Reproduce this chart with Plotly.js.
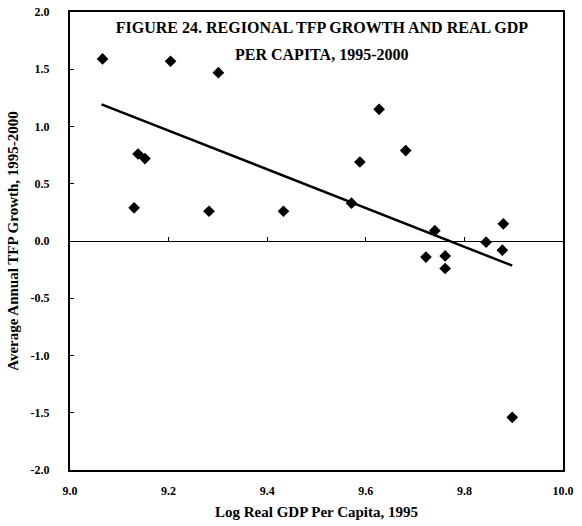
<!DOCTYPE html>
<html>
<head>
<meta charset="utf-8">
<script src="https://cdn.plot.ly/plotly-3.0.1.min.js"></script>
<style>
html,body{margin:0;padding:0;background:#fff;}
#chart{width:582px;height:526px;}
</style>
</head>
<body>
<div id="chart"></div>
<script>
// Log real GDP per capita, 1995 (x) and average annual TFP growth 1995-2000 (y)
var logGdp = [9.066, 9.204, 9.301, 9.138, 9.152, 9.130, 9.282, 9.433, 9.627, 9.588,
              9.681, 9.571, 9.740, 9.722, 9.761, 9.761, 9.844, 9.879, 9.877, 9.897];
var tfpGrowth = [1.59, 1.57, 1.47, 0.76, 0.72, 0.29, 0.26, 0.26, 1.15, 0.69,
                 0.79, 0.33, 0.09, -0.14, -0.13, -0.24, -0.01, 0.15, -0.08, -1.54];
// fitted trend line end points
var trendX = [9.064, 9.897];
var trendY = [1.194, -0.215];
// axis ticks
var xTickVals = [9.0, 9.2, 9.4, 9.6, 9.8, 10.0];
var xTickText = ["9.0", "9.2", "9.4", "9.6", "9.8", "10.0"];
var yTickVals = [-2, -1.5, -1, -0.5, 0, 0.5, 1, 1.5, 2];
var yTickText = ["-2.0", "-1.5", "-1.0", "-0.5", "0.0", "0.5", "1.0", "1.5", "2.0"];
var titleLine1 = "FIGURE 24. REGIONAL TFP GROWTH AND REAL GDP";
var titleLine2 = "PER CAPITA, 1995-2000";

var serif = "'Liberation Serif', 'Times New Roman', serif";

var traces = [
  {
    x: logGdp, y: tfpGrowth, type: 'scatter', mode: 'markers',
    marker: {symbol: 'diamond', size: 9, color: '#000'},
    hoverinfo: 'x+y', showlegend: false
  },
  {
    x: trendX, y: trendY, type: 'scatter', mode: 'lines',
    xaxis: 'x2',
    line: {color: '#000', width: 2.5},
    hoverinfo: 'skip', showlegend: false
  }
];

var layout = {
  width: 582, height: 526,
  paper_bgcolor: '#fff', plot_bgcolor: '#fff',
  margin: {l: 70, r: 19, t: 12, b: 56},
  font: {family: serif, color: '#000'},
  title: {
    text: '<b>' + titleLine1 + '</b>',
    font: {family: serif, size: 16, color: '#000'},
    xref: 'paper', x: 0.511, xanchor: 'center',
    yref: 'container', y: 0.947, yanchor: 'middle'
  },
  annotations: [{
    text: '<b>' + titleLine2 + '</b>',
    font: {family: serif, size: 16, color: '#000'},
    xref: 'paper', x: 0.511, xanchor: 'center',
    yref: 'paper', y: 0.908, yanchor: 'middle',
    showarrow: false
  }],
  xaxis: {
    range: [9, 10],
    tickvals: xTickVals, ticktext: xTickText,
    tickfont: {family: serif, size: 12, color: '#000', weight: 'bold'},
    ticks: '', showgrid: false, zeroline: false,
    showline: true, linecolor: '#000', linewidth: 2, mirror: true,
    ticklabelstandoff: 9,
    title: {text: '<b>Log Real GDP Per Capita, 1995</b>',
            font: {family: serif, size: 15, color: '#000'}, standoff: 9}
  },
  xaxis2: {
    range: [9, 10], overlaying: 'x', anchor: 'free', position: 0.5,
    tickvals: xTickVals, showticklabels: false,
    ticks: 'inside', ticklen: 4, tickwidth: 1, tickcolor: '#000',
    showline: true, linecolor: '#000', linewidth: 1,
    showgrid: false, zeroline: false
  },
  yaxis: {
    range: [-2, 2],
    tickvals: yTickVals, ticktext: yTickText,
    tickfont: {family: serif, size: 12, color: '#000', weight: 'bold'},
    ticks: 'inside', ticklen: 4, tickwidth: 1, tickcolor: '#000',
    showgrid: false, zeroline: false,
    showline: true, linecolor: '#000', linewidth: 2, mirror: true,
    ticklabelstandoff: 16,
    title: {text: '<b>Average Annual TFP Growth, 1995-2000</b>',
            font: {family: serif, size: 15, color: '#000'}, standoff: 8}
  }
};

Plotly.newPlot('chart', traces, layout, {displayModeBar: false, staticPlot: true});
</script>
</body>
</html>
